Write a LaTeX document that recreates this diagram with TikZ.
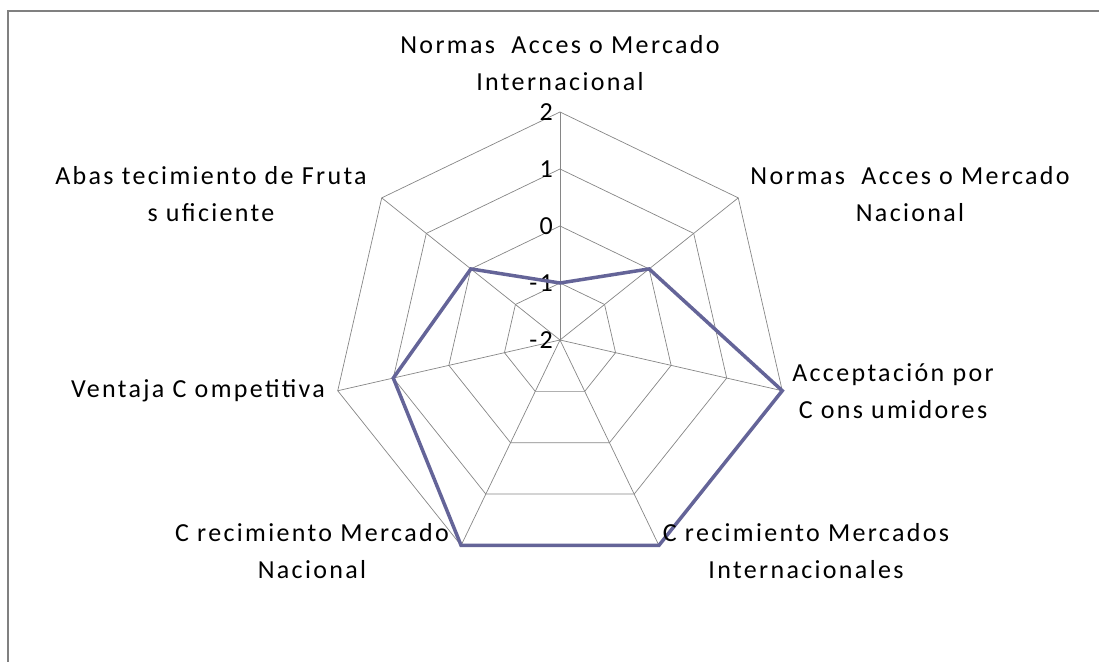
\documentclass[tikz,border=0pt]{standalone}
\usepackage{fontspec}
\setmainfont{Carlito}[LetterSpace=9]
\usepackage{tikz}
\usetikzlibrary{calc}

\definecolor{serie}{RGB}{100,100,152}
\definecolor{rejilla}{RGB}{134,134,134}

\begin{document}
\begin{tikzpicture}[x=1pt,y=1pt,
    rejilla/.style={color=rejilla,line width=0.7pt},
    etiqueta/.style={align=center,inner sep=0pt,font=\fontsize{26}{37}\selectfont},
    valor/.style={anchor=east,inner sep=0pt,font=\fontsize{26}{27}\selectfont}]
       \useasboundingbox (-560,-321) rectangle (539,340);
       \coordinate (O) at (0,0);

       %marco del grafico
       \draw[color=gray,line width=1.5pt] (-552,-330)--(-552,329)--(545,329);

       %rejilla: niveles -1, 0, 1, 2
       \draw[rejilla] (90:57)--(38.57:57)--(-12.86:57)--(-64.29:57)--(-115.71:57)--(-167.14:57)--(141.43:57)--cycle;
       \draw[rejilla] (90:114)--(38.57:114)--(-12.86:114)--(-64.29:114)--(-115.71:114)--(-167.14:114)--(141.43:114)--cycle;
       \draw[rejilla] (90:171)--(38.57:171)--(-12.86:171)--(-64.29:171)--(-115.71:171)--(-167.14:171)--(141.43:171)--cycle;
       \draw[rejilla] (90:228)--(38.57:228)--(-12.86:228)--(-64.29:228)--(-115.71:228)--(-167.14:228)--(141.43:228)--cycle;

       %ejes
       \draw[rejilla] (O)--(90:228);
       \draw[rejilla] (O)--(38.57:228);
       \draw[rejilla] (O)--(-12.86:228);
       \draw[rejilla] (O)--(-64.29:228);
       \draw[rejilla] (O)--(-115.71:228);
       \draw[rejilla] (O)--(-167.14:228);
       \draw[rejilla] (O)--(141.43:228);

       %valores de la escala
       \node[valor] (v2) at (-7,228) {2};
       \node[valor] (v1) at (-7,171) {1};
       \node[valor] (v0) at (-7,114) {0};
       \node[valor] (vm1) at (-7,57) {-1};
       \node[valor] (vm2) at (-7,0) {-2};

       %serie de datos
       \draw[color=serie,line width=3.5pt,line join=miter] (90:57)--(38.57:114)--(-12.86:228)--(-64.29:228)--(-115.71:228)--(-167.14:171)--(141.43:114)--cycle;

       %nombres de los ejes
       \node[etiqueta] (nami) at (0,277) {Normas\ \ Acces o Mercado\\Internacional};
       \node[etiqueta] (namn) at (350,146) {Normas\ \ Acces o Mercado\\Nacional};
       \node[etiqueta] (acep) at (333,-51) {Acceptación por\\C ons umidores};
       \node[etiqueta] (cmi) at (246,-211) {C recimiento Mercados\\Internacionales};
       \node[etiqueta] (cmn) at (-248,-211) {C recimiento Mercado\\Nacional};
       \node[etiqueta] (vent) at (-362,-51) {Ventaja C ompetitiva};
       \node[etiqueta] (abas) at (-349,146) {Abas tecimiento de Fruta\\s uficiente};

        \end{tikzpicture}
\end{document}
